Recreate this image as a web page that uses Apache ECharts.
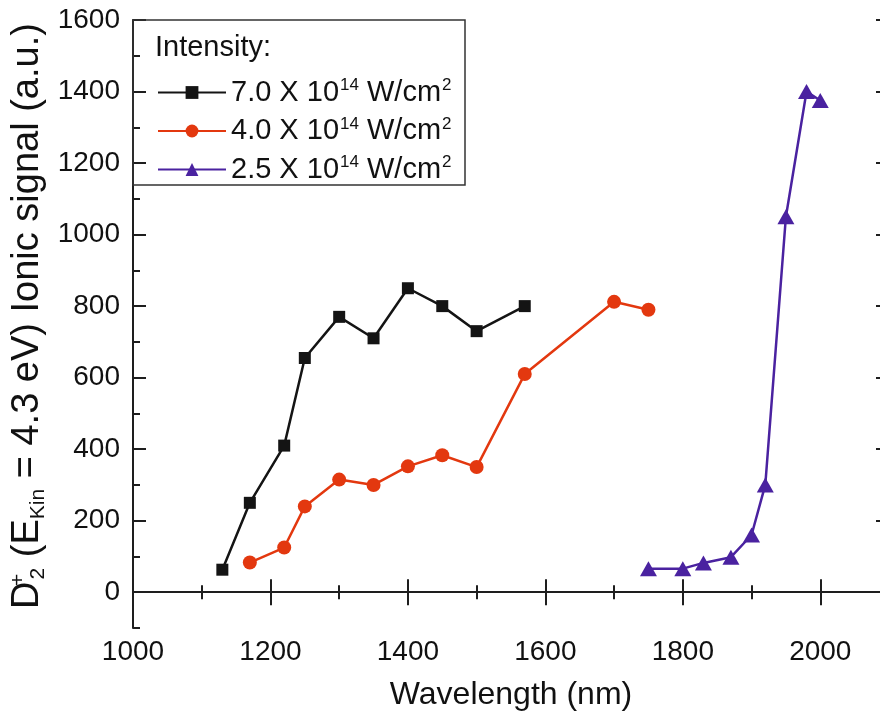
<!DOCTYPE html>
<html>
<head>
<meta charset="utf-8">
<script src="https://cdn.jsdelivr.net/npm/echarts@6/dist/echarts.min.js"></script>
<style>html,body{margin:0;padding:0;background:#fff;overflow:hidden}#c{width:889px;height:719px}</style>
</head>
<body>
<div id="c"></div>
<script>
// ---- data ----
const seriesNames = ['7.0 X 10^14 W/cm^2', '4.0 X 10^14 W/cm^2', '2.5 X 10^14 W/cm^2'];
const blackX = [1130, 1170, 1220, 1250, 1300, 1350, 1400, 1450, 1500, 1570];
const blackY = [63, 250, 410, 655, 770, 710, 850, 800, 730, 800];
const redX = [1170, 1220, 1250, 1300, 1350, 1400, 1450, 1500, 1570, 1700, 1750];
const redY = [83, 125, 240, 315, 300, 352, 383, 350, 610, 812, 790];
const purpleX = [1750, 1800, 1830, 1870, 1900, 1920, 1950, 1980, 2000];
const purpleY = [66, 66, 82, 98, 160, 300, 1050, 1400, 1375];
const yMajorTicks = [0, 200, 400, 600, 800, 1000, 1200, 1400, 1600];

const FONT = "'Liberation Sans', Arial, sans-serif";
const pair = (xs, ys) => xs.map((x, i) => [x, ys[i]]);
const AX = '#1e1e1e';
const plain = v => String(v);

const chart = echarts.init(document.getElementById('c'), null, {renderer: 'canvas'});

const legendRich = {
  t: {fontSize: 29, fontFamily: FONT, color: '#111', lineHeight: 31},
  s: {fontSize: 17, fontFamily: FONT, color: '#111', verticalAlign: 'top', lineHeight: 31, padding: [0, 0, 0, 1]}
};
function legendFmt(name) {
  const p = name.split(' X 10^');
  const exp = p[1].split(' ')[0];
  return '{t|' + p[0] + ' X 10}{s|' + exp + '}{t| W/cm}{s|2}';
}

const baseX = {
  type: 'value', min: 1000, max: 2100, interval: 200,
  axisLine: {show: true, lineStyle: {color: AX, width: 2}},
  splitLine: {show: false}
};

const option = {
  animation: false,
  backgroundColor: '#fff',
  grid: {left: 133, top: 20, right: 0, bottom: 91, containLabel: false, outerBoundsMode: 'none'},
  xAxis: [
    Object.assign({}, baseX, {
      position: 'bottom',
      axisTick: {show: true, inside: true, length: 13, lineStyle: {color: AX, width: 2}},
      minorTick: {show: true, splitNumber: 2, length: 7, lineStyle: {color: AX, width: 2}},
      axisLabel: {show: true, showMaxLabel: false, fontSize: 28, fontFamily: FONT, color: '#111', margin: 10, formatter: plain},
      name: 'Wavelength (nm)', nameLocation: 'middle', nameGap: 51,
      nameTextStyle: {fontSize: 32, fontFamily: FONT, color: '#111'}
    }),
    Object.assign({}, baseX, {
      position: 'top',
      axisTick: {show: true, inside: true, length: 13, lineStyle: {color: AX, width: 2}},
      minorTick: {show: true, splitNumber: 2, length: 7, lineStyle: {color: AX, width: 2}},
      axisLabel: {show: false}
    })
  ],
  yAxis: [
    { // left: minor ticks every 100, carries the data
      type: 'value', min: -100, max: 1600, interval: 100, position: 'left',
      axisLine: {show: true, lineStyle: {color: AX, width: 2}},
      axisTick: {show: true, inside: true, length: 7, lineStyle: {color: AX, width: 2}},
      axisLabel: {show: false}, splitLine: {show: false},
      name: '{m|D}{sp|+}{sb|2}{m| (E}{sb|Kin}{m| = 4.3 eV) Ionic signal (a.u.)}',
      nameLocation: 'middle', nameGap: 82, nameRotate: 90,
      nameTextStyle: {
        fontFamily: FONT, color: '#111', padding: [0, 0, 0, 16],
        rich: {
          m: {fontSize: 38, fontFamily: FONT, color: '#111', lineHeight: 46},
          sp: {fontSize: 21, fontFamily: FONT, color: '#111', verticalAlign: 'top', lineHeight: 46, width: 1, padding: [3, 0, 0, 1]},
          sb: {fontSize: 21, fontFamily: FONT, color: '#111', verticalAlign: 'bottom', lineHeight: 46, padding: [0, 0, 2, 0]}
        }
      }
    },
    { // left: major ticks + labels
      type: 'value', min: -100, max: 1600, position: 'left',
      axisLine: {show: false},
      axisTick: {show: true, inside: true, length: 13, customValues: yMajorTicks, lineStyle: {color: AX, width: 2}},
      axisLabel: {show: true, customValues: yMajorTicks, fontSize: 28, fontFamily: FONT, color: '#111', margin: 13, formatter: plain},
      splitLine: {show: false}
    },
    { // right: minor
      type: 'value', min: -100, max: 1600, interval: 100, position: 'right',
      axisLine: {show: true, lineStyle: {color: AX, width: 2}},
      axisTick: {show: true, inside: true, length: 7, lineStyle: {color: AX, width: 2}},
      axisLabel: {show: false}, splitLine: {show: false}
    },
    { // right: major
      type: 'value', min: -100, max: 1600, position: 'right',
      axisLine: {show: false},
      axisTick: {show: true, inside: true, length: 13, customValues: yMajorTicks, lineStyle: {color: AX, width: 2}},
      axisLabel: {show: false}, splitLine: {show: false}
    }
  ],
  legend: {
    orient: 'vertical', left: 152, top: 72,
    itemWidth: 68, itemHeight: 16, itemGap: 8.5,
    data: seriesNames,
    formatter: legendFmt,
    textStyle: {rich: legendRich},
    selectedMode: false
  },
  graphic: [
    {type: 'rect', shape: {x: 133, y: 20, width: 332, height: 165},
     style: {fill: 'none', stroke: '#333', lineWidth: 1.5}, z: 100},
    {type: 'text', x: 155, y: 48,
     style: {text: 'Intensity:', fontSize: 29, fontFamily: FONT, fill: '#111', verticalAlign: 'middle'}, z: 100}
  ],
  series: [
    {name: seriesNames[0], type: 'line', data: pair(blackX, blackY), xAxisIndex: 0, yAxisIndex: 0,
     symbol: 'rect', symbolSize: 12, lineStyle: {color: '#141414', width: 2.5},
     itemStyle: {color: '#141414'}},
    {name: seriesNames[1], type: 'line', data: pair(redX, redY), xAxisIndex: 0, yAxisIndex: 0,
     symbol: 'circle', symbolSize: 14, lineStyle: {color: '#e3380f', width: 2.5},
     itemStyle: {color: '#e3380f'}},
    {name: seriesNames[2], type: 'line', data: pair(purpleX, purpleY), xAxisIndex: 0, yAxisIndex: 0,
     symbol: 'triangle', symbolSize: [17, 15], lineStyle: {color: '#4a22a0', width: 2.5},
     itemStyle: {color: '#4a22a0'}}
  ]
};
chart.setOption(option);
</script>
</body>
</html>
